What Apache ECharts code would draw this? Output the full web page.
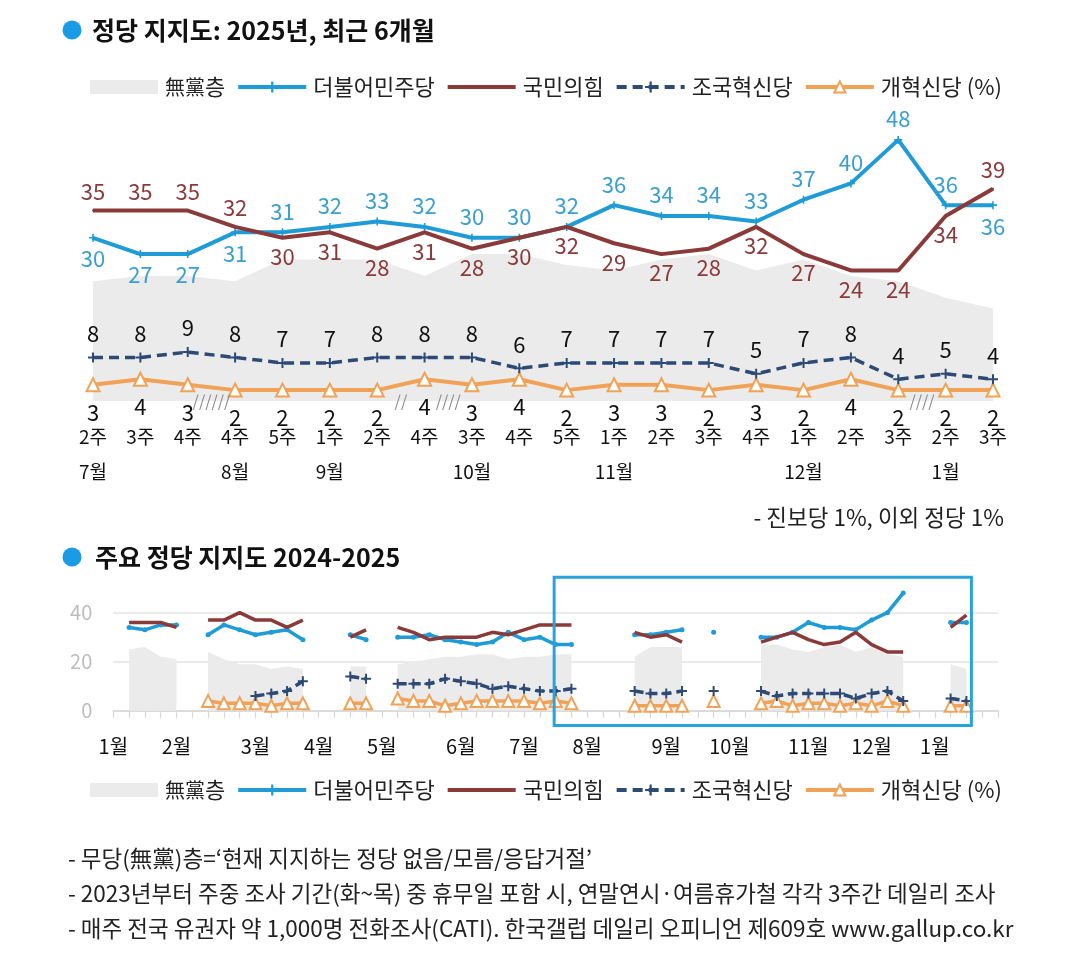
<!DOCTYPE html>
<html><head><meta charset="utf-8">
<script src="https://cdn.jsdelivr.net/npm/echarts@6/dist/echarts.min.js"></script>
<style>html,body{margin:0;padding:0;background:#fff}#c{width:1080px;height:969px}</style>
</head><body><div id="c"></div>
<script>
// ---------- Top chart data (recent 6 months) ----------
const weekLabels = ['2주','3주','4주','4주','5주','1주','2주','4주','3주','4주','5주','1주','2주','3주','4주','1주','2주','3주','2주','3주'];
const monthLabelsTop = ['7월','','','8월','','9월','','','10월','','','11월','','','','12월','','','1월',''];
const minju    = [30,27,27,31,31,32,33,32,30,30,32,36,34,34,33,37,40,48,36,36];
const ppp      = [35,35,35,32,30,31,28,31,28,30,32,29,27,28,32,27,24,24,34,39];
const cho      = [8,8,9,8,7,7,8,8,8,6,7,7,7,7,5,7,8,4,5,4];
const reform   = [3,4,3,2,2,2,2,4,3,4,2,3,3,2,3,2,4,2,2,2];
const nonParty = [22,23,23,22,26,26,26,23,27,27,25,24,26,27,24,26,23,22,19,17];
// gap markers between categories (after index)
const breakAfter = [2,6,7,17];
const breakText  = ['//////','//','////','////'];

// ---------- Bottom chart data (2024-2025 weekly) ----------
const longMonthLabels = ['1월','','','','2월','','','','','3월','','','','4월','','','','5월','','','','','6월','','','','7월','','','','8월','','','','','9월','','','','10월','','','','','11월','','','','12월','','','','1월','','','',''];
const recentWeekIndex = [27,28,29,33,34,35,36,38,41,42,43,44,45,46,47,48,49,50,53,54];
const minjuEarly  = [null,34,33,35,35,null,31,35,33,31,32,33,29,null,null,31,29,null,30,30,31,29,28,27,28,32,29];
const pppEarly    = [null,36,36,36,34,null,37,37,40,37,37,34,37,null,null,30,33,null,34,32,29,30,30,30,32,31,33];
const nonEarly    = [null,25,26,22,21,null,24,21,19,19,17,18,17,null,null,18,18,null,19,20,21,22,22,23,23,21,22];
const choEarly    = [null,null,null,null,null,null,null,null,null,6,7,8,12,null,null,14,13,null,11,11,11,13,12,11,9,10,9];
const reformEarly = [null,null,null,null,null,null,4,3,3,3,2,3,3,null,null,3,3,null,5,4,4,2,3,4,4,4,4];

function buildLong(early, recent){
  const arr = new Array(longMonthLabels.length).fill(null);
  early.forEach((v,i)=>{arr[i]=v;});
  recent.forEach((v,k)=>{arr[recentWeekIndex[k]]=v;});
  return arr;
}

const FONT = "'Noto Sans CJK KR', 'Noto Sans', sans-serif";
const C_MINJU = '#1f9bd7', C_PPP = '#8b3a3a', C_CHO = '#2c4a74', C_REF = '#f0a257', C_NON = '#ebebeb';
const L_MINJU = '#3a9fcf';
const PLUS = 'path://M-1,-5L1,-5L1,-1L5,-1L5,1L1,1L1,5L-1,5L-1,1L-5,1L-5,-1L-1,-1Z';

const chart = echarts.init(document.getElementById('c'), null, {renderer:'canvas'});

const topMinju = minju.map((v,i)=>({value:v, label:{position: v>=ppp[i]?'top':'bottom'}}));
const topPpp = ppp.map((v,i)=>({value:v, label:{position: v>minju[i]?'top':'bottom'}}));

const legendData = [
  {name:'無黨층', icon:'rect', itemStyle:{color:C_NON}},
  {name:'더불어민주당'},
  {name:'국민의힘', itemStyle:{opacity:0}},
  {name:'조국혁신당'},{name:'개혁신당'}
];
function legendCfg(top){
  return {top:top, left:85, itemWidth:68, itemHeight:14, itemGap:11, selectedMode:false,
    lineStyle:{width:4},
    textStyle:{fontSize:22, color:'#222', fontFamily:FONT, padding:[0,0,0,2],
      rich:{h:{fontSize:20, fontFamily:FONT, color:'#222'}, k:{fontSize:22, fontFamily:FONT, color:'#222'}}},
    formatter: n => n==='無黨층' ? '{h|無黨}{k|층}' : (n==='개혁신당' ? '개혁신당 (%)' : n), data:legendData};
}

const option = {
  animation:false,
  backgroundColor:'#fff',
  textStyle:{fontFamily:FONT},
  legend:[legendCfg(71), legendCfg(774)],
  grid:[
    {left:93, right:87, top:129, bottom:568},
    {left:113.3, right:82, top:612.7, bottom:258.3}
  ],
  xAxis:[
    {type:'category', gridIndex:0, data:weekLabels, boundaryGap:false,
     axisLine:{show:false}, axisTick:{show:false},
     axisLabel:{interval:0, fontSize:19, color:'#111', margin:26, fontFamily:FONT}},
    {type:'category', gridIndex:0, data:monthLabelsTop, boundaryGap:false, position:'bottom', offset:35,
     axisLine:{show:false}, axisTick:{show:false},
     axisLabel:{interval:0, fontSize:19, color:'#111', margin:26, fontFamily:FONT}},
    {type:'category', gridIndex:1, data:longMonthLabels, boundaryGap:false,
     axisLine:{show:true, lineStyle:{color:'#d6d6d6', width:1.5}},
     axisTick:{show:true, interval:0, length:7, lineStyle:{color:'#d6d6d6', width:1.2}},
     axisLabel:{interval:0, fontSize:20, color:'#111', margin:26, fontFamily:FONT}}
  ],
  yAxis:[
    {type:'value', gridIndex:0, min:0, max:50, show:false},
    {type:'value', gridIndex:1, min:0, max:40, interval:20,
     axisLine:{show:false}, axisTick:{show:false},
     axisLabel:{fontSize:20, color:'#bdbdbd', margin:21, fontFamily:FONT},
     splitLine:{show:true, lineStyle:{color:'#e4e4e4', width:1.5}}}
  ],
  series:[
    // ---- top ----
    {name:'無黨층', type:'line', xAxisIndex:0, yAxisIndex:0, data:nonParty, symbol:'none',
     lineStyle:{width:0}, areaStyle:{color:C_NON, opacity:1}, itemStyle:{color:C_NON}, z:1},
    {name:'개혁신당', type:'line', xAxisIndex:0, yAxisIndex:0, data:reform, symbol:'triangle', symbolSize:13,
     lineStyle:{color:C_REF, width:4}, itemStyle:{color:'#fff', borderColor:C_REF, borderWidth:2},
     label:{show:true, position:'bottom', distance:9, fontSize:22, color:'#111', fontFamily:FONT}, z:3},
    {name:'조국혁신당', type:'line', xAxisIndex:0, yAxisIndex:0, data:cho, symbol:PLUS, symbolSize:10,
     lineStyle:{color:C_CHO, width:3.5, type:[10,6]}, itemStyle:{color:C_CHO},
     label:{show:true, position:'top', distance:8, fontSize:22, color:'#111', fontFamily:FONT}, z:4},
    {name:'더불어민주당', type:'line', xAxisIndex:0, yAxisIndex:0, data:topMinju, symbol:PLUS, symbolSize:8,
     lineStyle:{color:C_MINJU, width:4}, itemStyle:{color:C_MINJU},
     label:{show:true, distance:6, fontSize:22, color:L_MINJU, fontFamily:FONT}, z:5},
    {name:'국민의힘', type:'line', xAxisIndex:0, yAxisIndex:0, data:topPpp, symbol:'circle', symbolSize:2,
     lineStyle:{color:C_PPP, width:4}, itemStyle:{color:C_PPP},
     label:{show:true, distance:7, fontSize:22, color:C_PPP, fontFamily:FONT}, z:6},
    // ---- bottom ----
    {name:'無黨층', type:'line', xAxisIndex:2, yAxisIndex:1, data:buildLong(nonEarly,nonParty), symbol:'none',
     lineStyle:{width:0}, areaStyle:{color:C_NON, opacity:1}, itemStyle:{color:C_NON}, z:1, clip:false},
    {name:'개혁신당', type:'line', xAxisIndex:2, yAxisIndex:1, data:buildLong(reformEarly,reform), symbol:'triangle', symbolSize:12,
     showAllSymbol:true, lineStyle:{color:C_REF, width:3.5}, itemStyle:{color:'#fff', borderColor:C_REF, borderWidth:2}, z:3, clip:false},
    {name:'조국혁신당', type:'line', xAxisIndex:2, yAxisIndex:1, data:buildLong(choEarly,cho), symbol:PLUS, symbolSize:10,
     showAllSymbol:true, lineStyle:{color:C_CHO, width:3.5, type:[9,5]}, itemStyle:{color:C_CHO}, z:4, clip:false},
    {name:'더불어민주당', type:'line', xAxisIndex:2, yAxisIndex:1, data:buildLong(minjuEarly,minju), symbol:'circle', symbolSize:5,
     showAllSymbol:true, lineStyle:{color:C_MINJU, width:3.5}, itemStyle:{color:C_MINJU}, z:5, clip:false},
    {name:'국민의힘', type:'line', xAxisIndex:2, yAxisIndex:1, data:buildLong(pppEarly,ppp), symbol:'none',
     lineStyle:{color:C_PPP, width:3.5}, itemStyle:{color:C_PPP}, z:6, clip:false}
  ]
};
chart.setOption(option);

// ----- graphic overlay (titles, notes, gap markers, highlight box) -----
const xTop = i => chart.convertToPixel({xAxisIndex:0}, i);
const yTop = v => chart.convertToPixel({yAxisIndex:0}, v);
const xLong = i => chart.convertToPixel({xAxisIndex:2}, i);
const yLong = v => chart.convertToPixel({yAxisIndex:1}, v);

const NOTE = '22.5px '+FONT;
const g = [
  {type:'circle', shape:{cx:72, cy:30, r:9.5}, style:{fill:'#1a9be6'}},
  {type:'text', x:92, y:30, style:{text:'정당 지지도: 2025년, 최근 6개월', font:'bold 25px '+FONT, fill:'#111', verticalAlign:'middle'}},
  {type:'circle', shape:{cx:72, cy:557, r:9.5}, style:{fill:'#1a9be6'}},
  {type:'text', x:95, y:557, style:{text:'주요 정당 지지도 2024-2025', font:'bold 25px '+FONT, fill:'#111', verticalAlign:'middle'}},
  {type:'text', x:1004, y:517, style:{text:'- 진보당 1%, 이외 정당 1%', font:NOTE, fill:'#222', align:'right', verticalAlign:'middle'}},
  {type:'text', x:68, y:858, style:{text:'- 무당(無黨)층=‘현재 지지하는 정당 없음/모름/응답거절’', font:NOTE, fill:'#222', verticalAlign:'middle'}},
  {type:'text', x:68, y:893, style:{text:'- 2023년부터 주중 조사 기간(화~목) 중 휴무일 포함 시, 연말연시·여름휴가철 각각 3주간 데일리 조사', font:NOTE, fill:'#222', verticalAlign:'middle'}},
  {type:'text', x:68, y:928, style:{text:'- 매주 전국 유권자 약 1,000명 전화조사(CATI). 한국갤럽 데일리 오피니언 제609호 www.gallup.co.kr', font:NOTE, fill:'#222', verticalAlign:'middle'}}
];
breakAfter.forEach((i,k)=>{
  const cx = (xTop(i)+xTop(i+1))/2;
  g.push({type:'text', x:cx, y:yTop(0), z:10, style:{text:breakText[k], font:'16px '+FONT, fill:'#8a8a8a', align:'center', verticalAlign:'middle'}});
});
const bx0 = xLong(28) - 1.5, bx1 = xLong(54) + 5, by0 = yLong(54.5), by1 = yLong(-6);
g.push({type:'rect', z:20, shape:{x:bx0, y:by0, width:bx1-bx0, height:by1-by0}, style:{fill:'none', stroke:'#2aa3dc', lineWidth:3}});
chart.setOption({graphic:g});
</script></body></html>
